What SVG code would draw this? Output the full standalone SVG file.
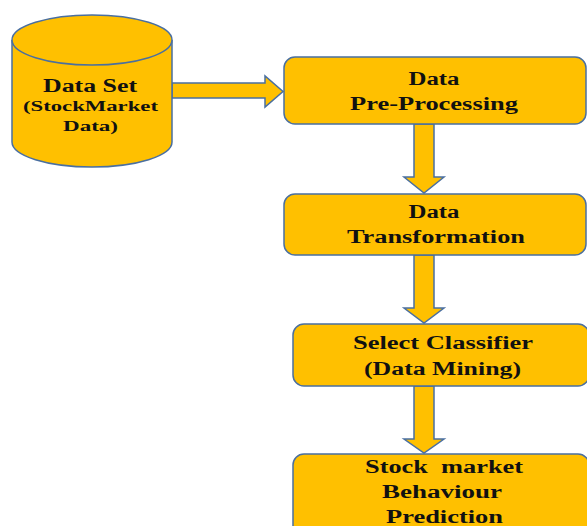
<svg xmlns="http://www.w3.org/2000/svg" width="587" height="526" viewBox="0 0 587 526">
<style>
.shape{fill:#FFC000;stroke:#4A6FA0;stroke-width:1.5}
.t{font-family:"Liberation Serif","Times New Roman",serif;font-weight:bold;font-size:18px;fill:#111;text-anchor:middle}
.s{font-size:15px}
</style>
<rect width="587" height="526" fill="#fff"/>
<g id="connectors">
<path class="shape" d="M172,83 H265 V76 L283,91.5 L265,107 V98 H172 Z"/>
<path class="shape" d="M414,124 V177 H404 L424,193 L444,177 H434 V124 Z"/>
<path class="shape" d="M414,255 V308 H404 L424,323 L444,308 H434 V255 Z"/>
<path class="shape" d="M414,386 V439 H404 L424,453 L444,439 H434 V386 Z"/>
</g>
<g id="dataset">
<path class="shape" d="M12,40 V142 A80,25 0 0 0 172,142 V40 A80,25 0 0 0 12,40 Z"/>
<path class="shape" d="M12,40 A80,25 0 0 0 172,40" fill="none"/>
<text class="t" x="90" y="92" textLength="94" lengthAdjust="spacingAndGlyphs">Data Set</text>
<text class="t s" x="90.5" y="111" textLength="135" lengthAdjust="spacingAndGlyphs">(StockMarket</text>
<text class="t s" x="90.5" y="131" textLength="55" lengthAdjust="spacingAndGlyphs">Data)</text>
</g>
<g id="preprocessing">
<rect class="shape" x="284" y="57" width="302" height="67" rx="11"/>
<text class="t" x="434" y="85" textLength="51" lengthAdjust="spacingAndGlyphs">Data</text>
<text class="t" x="434" y="110" textLength="168" lengthAdjust="spacingAndGlyphs">Pre-Processing</text>
</g>
<g id="transformation">
<rect class="shape" x="284" y="194" width="302" height="61" rx="11"/>
<text class="t" x="434" y="218" textLength="51" lengthAdjust="spacingAndGlyphs">Data</text>
<text class="t" x="436" y="243" textLength="178" lengthAdjust="spacingAndGlyphs">Transformation</text>
</g>
<g id="classifier">
<rect class="shape" x="293" y="324" width="296" height="62" rx="11"/>
<text class="t" x="443" y="349" textLength="180" lengthAdjust="spacingAndGlyphs">Select Classifier</text>
<text class="t" x="442.5" y="375" textLength="157" lengthAdjust="spacingAndGlyphs">(Data Mining)</text>
</g>
<g id="prediction">
<rect class="shape" x="293" y="454" width="296" height="90" rx="11"/>
<text class="t" x="444" y="473" textLength="158" lengthAdjust="spacingAndGlyphs" xml:space="preserve">Stock  market</text>
<text class="t" x="442" y="498" textLength="120" lengthAdjust="spacingAndGlyphs">Behaviour</text>
<text class="t" x="444.5" y="523" textLength="117" lengthAdjust="spacingAndGlyphs">Prediction</text>
</g>
</svg>
